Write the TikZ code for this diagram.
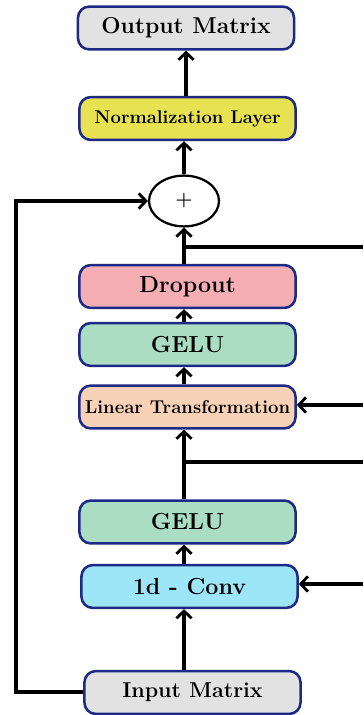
\documentclass[tikz,border=0pt]{standalone}
\usepackage{fontspec}
\usepackage{amsmath}
\usetikzlibrary{calc, shapes.geometric, arrows.meta}
\definecolor{navy}{HTML}{1C2A85}
\definecolor{graybox}{HTML}{E2E2E2}
\definecolor{yellowbox}{HTML}{E6E252}
\definecolor{pinkbox}{HTML}{F4AEB4}
\definecolor{greenbox}{HTML}{ABDDC2}
\definecolor{peachbox}{HTML}{F8D2B6}
\definecolor{cyanbox}{HTML}{9DE6F7}

\begin{document}
\begin{tikzpicture}[x=0.025cm,y=-0.025cm,
    block/.style={align=center,rectangle,rounded corners=0.28cm,draw=navy,line width=1.8pt,minimum width=5.4cm,minimum height=1.07cm,inner sep=0pt,font=\bfseries\fontsize{16.5}{20}\selectfont},
    conn/.style={line width=2.2pt,-{Straight Barb[length=1.8mm,width=3.8mm,line width=2pt]}},
    wire/.style={line width=2.2pt}]
        \useasboundingbox (0,0) rectangle (363,715);
        \node [block,fill=graybox,font=\bfseries\fontsize{16.3}{20}\selectfont] (out) at (186,28) {Output Matrix};
        \node [block,fill=yellowbox,font=\bfseries\fontsize{13.1}{16}\selectfont] (norm) at (187.5,118.5) {Normalization Layer};
        \node [ellipse,draw,line width=1.6pt,minimum width=1.75cm,minimum height=1.27cm,font=\bfseries\fontsize{14}{16}\selectfont] (plus) at (184,201) {+};
        \node [block,fill=pinkbox] (drop) at (187.5,286.5) {Dropout};
        \node [block,fill=greenbox] (gelu1) at (187.5,344.5) {GELU};
        \node [block,fill=peachbox,font=\bfseries\fontsize{13.2}{16}\selectfont] (lin) at (187.5,407) {Linear Transformation};
        \node [block,fill=greenbox] (gelu2) at (187.5,522) {GELU};
        \node [block,fill=cyanbox] (conv) at (189.5,586.5) {1d - Conv};
        \node [block,fill=graybox,font=\bfseries\fontsize{15.3}{18}\selectfont] (in) at (192.5,692.5) {Input Matrix};
        \coordinate (r1) at (363,247);
        \coordinate (r2) at (363,405);
        \coordinate (r3) at (363,462);
        \coordinate (r4) at (363,584);
        \coordinate (l1) at (16,692);
        \draw[conn] (norm.north -| out.south) -- (out.south);
        \draw[conn] (plus.north) -- (plus.north |- norm.south);
        \draw[conn] (plus.south |- drop.north) -- (plus.south);
        \draw[conn] (plus.south |- gelu1.north) -- (plus.south |- drop.south);
        \draw[conn] (plus.south |- lin.north) -- (plus.south |- gelu1.south);
        \draw[conn] (plus.south |- gelu2.north) -- (plus.south |- lin.south);
        \draw[conn] (plus.south |- conv.north) -- (plus.south |- gelu2.south);
        \draw[conn] (plus.south |- in.north) -- (plus.south |- conv.south);
        \draw[wire] (r1) -- (r1 -| plus.south);
        \draw[wire] (r3) -- (r3 -| plus.south);
        \draw[conn] (r2) -- (r2 -| lin.east);
        \draw[conn] (r4) -- (r4 -| conv.east);
        \draw[conn] (in.west |- l1) -- (l1) |- (plus.west);
    \end{tikzpicture}
\end{document}
